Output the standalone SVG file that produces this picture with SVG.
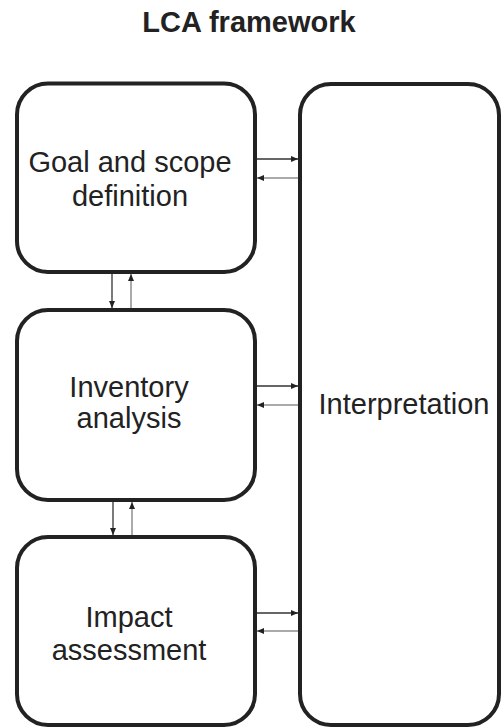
<svg xmlns="http://www.w3.org/2000/svg" width="502" height="727" viewBox="0 0 502 727">
  <defs>
    <marker id="head" viewBox="0 0 7 6" refX="7" refY="3" markerWidth="7" markerHeight="6" markerUnits="userSpaceOnUse" orient="auto">
      <path d="M0,0 L7,3 L0,6 Z" fill="#222"/>
    </marker>
    <style>
      .box { fill: #fff; stroke: #222; stroke-width: 4; }
      .label { font-family: "Liberation Sans", Arial, sans-serif; font-size: 29px; fill: #222; text-anchor: middle; }
      .title { font-family: "Liberation Sans", Arial, sans-serif; font-size: 29px; font-weight: bold; fill: #222; text-anchor: middle; }
      .fwd { stroke: #333; stroke-width: 1.3; fill: none; marker-end: url(#head); }
      .back { stroke: #aaa; stroke-width: 2; fill: none; marker-end: url(#head); }
    </style>
  </defs>
  <rect width="502" height="727" fill="#fff"/>

  <text class="title" x="249" y="32">LCA framework</text>

  <g id="goal">
    <rect class="box" x="17" y="83.5" width="238" height="188.5" rx="31" ry="31"/>
    <text class="label" x="130" y="172">Goal and scope</text>
    <text class="label" x="130" y="206">definition</text>
  </g>

  <g id="inventory">
    <rect class="box" x="17" y="310" width="238" height="190" rx="31" ry="31"/>
    <text class="label" x="129" y="397">Inventory</text>
    <text class="label" x="129" y="428">analysis</text>
  </g>

  <g id="impact">
    <rect class="box" x="17" y="537" width="238" height="188" rx="31" ry="31"/>
    <text class="label" x="129" y="627">Impact</text>
    <text class="label" x="129" y="660">assessment</text>
  </g>

  <g id="interpretation">
    <rect class="box" x="300" y="84" width="199" height="641" rx="31" ry="31"/>
    <text class="label" x="404" y="414">Interpretation</text>
  </g>

  <g id="connectors">
    <!-- stage to interpretation and back -->
    <line class="fwd" x1="257" y1="159" x2="298" y2="159"/>
    <line class="back" x1="298" y1="178" x2="257" y2="178"/>
    <line class="fwd" x1="257" y1="386" x2="298" y2="386"/>
    <line class="back" x1="298" y1="405" x2="257" y2="405"/>
    <line class="fwd" x1="257" y1="613" x2="298" y2="613"/>
    <line class="back" x1="298" y1="631" x2="257" y2="631"/>
    <!-- between stacked stages -->
    <line class="fwd" x1="112" y1="274" x2="112" y2="308"/>
    <line class="back" x1="131" y1="308" x2="131" y2="274"/>
    <line class="fwd" x1="113" y1="502" x2="113" y2="535"/>
    <line class="back" x1="132" y1="535" x2="132" y2="502"/>
  </g>
</svg>
